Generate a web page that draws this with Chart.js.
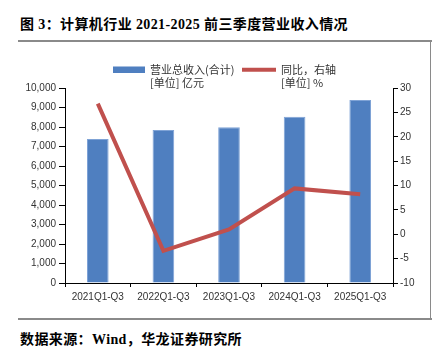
<!DOCTYPE html>
<html>
<head>
<meta charset="utf-8">
<script src="https://cdn.jsdelivr.net/npm/chart.js@4/dist/chart.umd.min.js"></script>
<style>
html,body{margin:0;padding:0;background:#fff;width:432px;height:348px;overflow:hidden;}
#wrap{position:relative;width:432px;height:348px;}
#title{position:absolute;left:20px;top:13px;font:bold 14px "Liberation Serif","Noto Sans CJK SC",serif;color:#000;white-space:nowrap;}
#foot{position:absolute;left:20px;top:328px;font:bold 14px "Liberation Serif","Noto Sans CJK SC",serif;color:#000;white-space:nowrap;}
.hl{position:absolute;height:1.5px;background:#8a8a8a;}
.vl{position:absolute;width:1.5px;background:#8a8a8a;}
canvas{position:absolute;left:0;top:0;}
</style>
</head>
<body>
<div id="wrap">
<div id="title">图 3：计算机行业 2021-2025 前三季度营业收入情况</div>
<div class="hl" style="left:18px;top:40px;width:414px;"></div>
<div class="vl" style="left:429.5px;top:40px;height:279px;"></div>
<div class="hl" style="left:18px;top:318px;width:414px;"></div>
<div id="foot">数据来源：Wind，华龙证券研究所</div>
<canvas id="c" width="432" height="348"></canvas>
</div>
<script>
const categories = ["2021Q1-Q3","2022Q1-Q3","2023Q1-Q3","2024Q1-Q3","2025Q1-Q3"];
const revenue = [7380, 7840, 7990, 8520, 9380];
const yoy = [26.8, -3.4, 1.0, 9.4, 8.2];
const legendBar = ["营业总收入(合计)", "[单位] 亿元"];
const legendLine = ["同比，右轴", "[单位] %"];

// fit header/footer text to the reference widths
function fitWidth(id, target) {
  const el = document.getElementById(id);
  const n = el.textContent.length;
  const w = el.getBoundingClientRect().width;
  const ls = (target - w) / n;
  el.style.letterSpacing = ls + "px";
}
fitWidth("title", 328);
fitWidth("foot", 222);

const barColor = "#4F7FC0";
const lineColor = "#C0504D";

const legendPlugin = {
  id: "customLegend",
  afterDraw(chart) {
    const ctx = chart.ctx;
    ctx.save();
    ctx.fillStyle = barColor;
    ctx.fillRect(113, 66.5, 32, 6.5);
    ctx.strokeStyle = lineColor;
    ctx.lineWidth = 4;
    ctx.beginPath();
    ctx.moveTo(242, 69.7);
    ctx.lineTo(276, 69.7);
    ctx.stroke();
    ctx.fillStyle = "#333";
    ctx.font = '11px "Noto Sans CJK SC", sans-serif';
    ctx.textBaseline = "middle";
    ctx.textAlign = "left";
    ctx.fillText(legendBar[0], 150, 69.7);
    ctx.fillText(legendBar[1], 150, 83.3);
    ctx.fillText(legendLine[0], 281, 69.7);
    ctx.fillText(legendLine[1], 281, 83.3);
    ctx.restore();
  }
};

const tickFont = { family: '"Liberation Sans", Arial, sans-serif', size: 10 };

new Chart(document.getElementById("c"), {
  type: "bar",
  data: {
    labels: categories,
    datasets: [
      {
        type: "line",
        label: legendLine[0],
        data: yoy,
        yAxisID: "y1",
        borderColor: lineColor,
        backgroundColor: lineColor,
        borderWidth: 4,
        pointRadius: 0,
        tension: 0,
        order: 0
      },
      {
        type: "bar",
        label: legendBar[0],
        data: revenue,
        yAxisID: "y",
        backgroundColor: barColor,
        borderColor: "#7FA3D6",
        borderWidth: 1,
        categoryPercentage: 1,
        barPercentage: 0.33,
        order: 1
      }
    ]
  },
  options: {
    responsive: false,
    animation: false,
    devicePixelRatio: 1,
    layout: { padding: { top: 88, left: 0, right: 0, bottom: 0 } },
    plugins: { legend: { display: false }, tooltip: { enabled: false }, title: { display: false } },
    scales: {
      x: {
        offset: true,
        grid: { display: true, drawOnChartArea: false, drawTicks: true, tickLength: 4, color: "#000", offset: true },
        border: { display: true, color: "#000", width: 1 },
        ticks: { font: tickFont, color: "#333", padding: 4, maxRotation: 0, autoSkip: false },
        afterFit(s) { s.height = 65; }
      },
      y: {
        position: "left",
        min: 0, max: 10000,
        grid: { display: true, drawOnChartArea: false, drawTicks: true, tickLength: 6, color: "#000" },
        border: { display: true, color: "#000", width: 1 },
        ticks: {
          stepSize: 1000, font: tickFont, color: "#333", padding: 3,
          callback: v => v.toLocaleString("en-US")
        },
        afterFit(s) { s.width = 65; }
      },
      y1: {
        position: "right",
        min: -10, max: 30,
        grid: { display: true, drawOnChartArea: false, drawTicks: true, tickLength: 5, color: "#000" },
        border: { display: true, color: "#000", width: 1 },
        ticks: { stepSize: 5, font: tickFont, color: "#333", padding: 2 },
        afterFit(s) { s.width = 39; }
      }
    }
  },
  plugins: [legendPlugin]
});
</script>
</body>
</html>
